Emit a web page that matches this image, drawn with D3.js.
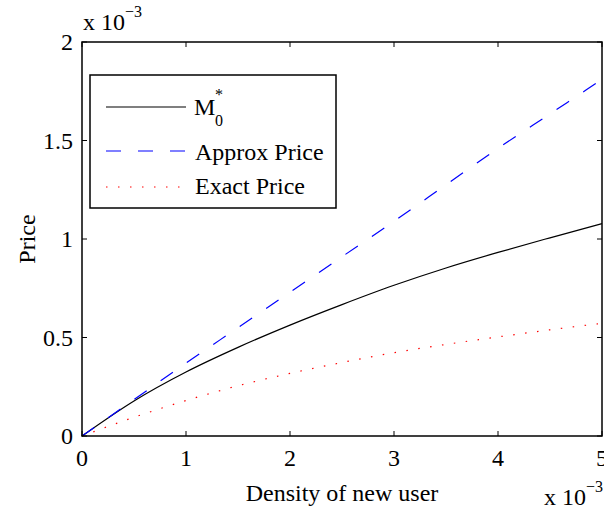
<!DOCTYPE html>
<html lang="en">
<head>
    <meta charset="UTF-8">
    <script src="https://d3js.org/d3.v7.min.js"></script>
    <title>Price vs density of new user</title>
    <style>
        body { margin: 0; background: #fff; }
        svg { display: block; }
        text { font-family: "Liberation Serif", "Times New Roman", serif; fill: #000; }
    </style>
</head>
<body>
    <svg id="chart" width="604" height="507"></svg>

    <script>
        // density of new user (x 10^-3)
        const density = [0, 0.5, 1, 1.5, 2, 2.5, 3, 3.5, 4, 4.5, 5];
        // prices (x 10^-3)
        const m0Star = [0, 0.178, 0.325, 0.45, 0.563, 0.667, 0.765, 0.853, 0.932, 1.006, 1.078];
        const approxPrice = [0, 0.185, 0.37, 0.55, 0.73, 0.91, 1.09, 1.275, 1.46, 1.635, 1.81];
        const exactPrice = [0, 0.095, 0.18, 0.255, 0.318, 0.373, 0.423, 0.465, 0.503, 0.539, 0.572];

        const xTicks = [0, 1, 2, 3, 4, 5];
        const yTicks = [0, 0.5, 1, 1.5, 2];

        const plotL = 82, plotR = 602, plotT = 42, plotB = 436;
        const fs = 24;

        const x = d3.scaleLinear().domain([0, 5]).range([plotL, plotR]);
        const y = d3.scaleLinear().domain([0, 2]).range([plotB, plotT]);

        const svg = d3.select("#chart");

        const series = [
            { name: "M0", values: m0Star, color: "#000", dash: null, w: 1.2 },
            { name: "Approx Price", values: approxPrice, color: "#0000ff", dash: "15,17", w: 1.2 },
            { name: "Exact Price", values: exactPrice, color: "#ff0000", dash: "1.5,10.5", w: 1.2 }
        ];

        const line = d3.line()
            .x((d, i) => x(density[i]))
            .y(d => y(d))
            .curve(d3.curveMonotoneX);

        // curves
        svg.append("g")
            .selectAll("path")
            .data(series)
            .join("path")
            .attr("d", d => line(d.values))
            .attr("fill", "none")
            .attr("stroke", d => d.color)
            .attr("stroke-width", d => d.w)
            .attr("stroke-dasharray", d => d.dash);

        // inward ticks on all four sides, matlab style
        const tk = 5;
        const ticks = svg.append("g").attr("stroke", "#000").attr("stroke-width", 1);
        xTicks.forEach(t => {
            ticks.append("line").attr("x1", x(t)).attr("x2", x(t)).attr("y1", plotB).attr("y2", plotB - tk);
            ticks.append("line").attr("x1", x(t)).attr("x2", x(t)).attr("y1", plotT).attr("y2", plotT + tk);
        });
        yTicks.forEach(t => {
            ticks.append("line").attr("x1", plotL).attr("x2", plotL + tk).attr("y1", y(t)).attr("y2", y(t));
            ticks.append("line").attr("x1", plotR).attr("x2", plotR - tk).attr("y1", y(t)).attr("y2", y(t));
        });

        // box
        svg.append("rect")
            .attr("x", plotL).attr("y", plotT)
            .attr("width", plotR - plotL).attr("height", plotB - plotT)
            .attr("fill", "none").attr("stroke", "#000").attr("stroke-width", 1.5);

        // tick labels
        svg.append("g")
            .selectAll("text")
            .data(xTicks)
            .join("text")
            .attr("x", d => x(d))
            .attr("y", 466)
            .attr("text-anchor", "middle")
            .attr("font-size", fs)
            .text(d => d);

        svg.append("g")
            .selectAll("text")
            .data(yTicks)
            .join("text")
            .attr("x", 73)
            .attr("y", d => y(d) + 8)
            .attr("text-anchor", "end")
            .attr("font-size", fs)
            .text(d => d);

        // exponent labels
        function expLabel(xp, yp) {
            const t = svg.append("text").attr("x", xp).attr("y", yp).attr("font-size", fs);
            t.append("tspan").text("x 10");
            t.append("tspan").attr("dy", -13).attr("font-size", 16).text("\u22123");
        }
        expLabel(83, 30);
        expLabel(544, 505);

        // axis labels
        svg.append("text")
            .attr("x", x(2.5))
            .attr("y", 501)
            .attr("text-anchor", "middle")
            .attr("font-size", fs)
            .text("Density of new user");

        svg.append("text")
            .attr("transform", `translate(35,${y(1)}) rotate(-90)`)
            .attr("text-anchor", "middle")
            .attr("font-size", fs)
            .text("Price");

        // legend
        const lg = svg.append("g");
        lg.append("rect")
            .attr("x", 90).attr("y", 75)
            .attr("width", 246).attr("height", 133)
            .attr("fill", "#fff").attr("stroke", "#000").attr("stroke-width", 1.5);

        const rowY = [107, 151, 187];
        series.forEach((s, i) => {
            lg.append("line")
                .attr("x1", 106).attr("x2", 186)
                .attr("y1", rowY[i]).attr("y2", rowY[i])
                .attr("stroke", s.color)
                .attr("stroke-width", s.w)
                .attr("stroke-dasharray", s.dash);
        });

        lg.append("text").attr("x", 194).attr("y", 115).attr("font-size", fs).text("M");
        lg.append("text").attr("x", 215).attr("y", 126).attr("font-size", 16).text("0");
        lg.append("text").attr("x", 215).attr("y", 100).attr("font-size", 16).text("*");

        lg.append("text").attr("x", 195).attr("y", 160).attr("font-size", fs).text("Approx Price");
        lg.append("text").attr("x", 195).attr("y", 194).attr("font-size", fs).text("Exact Price");
    </script>
</body>
</html>
